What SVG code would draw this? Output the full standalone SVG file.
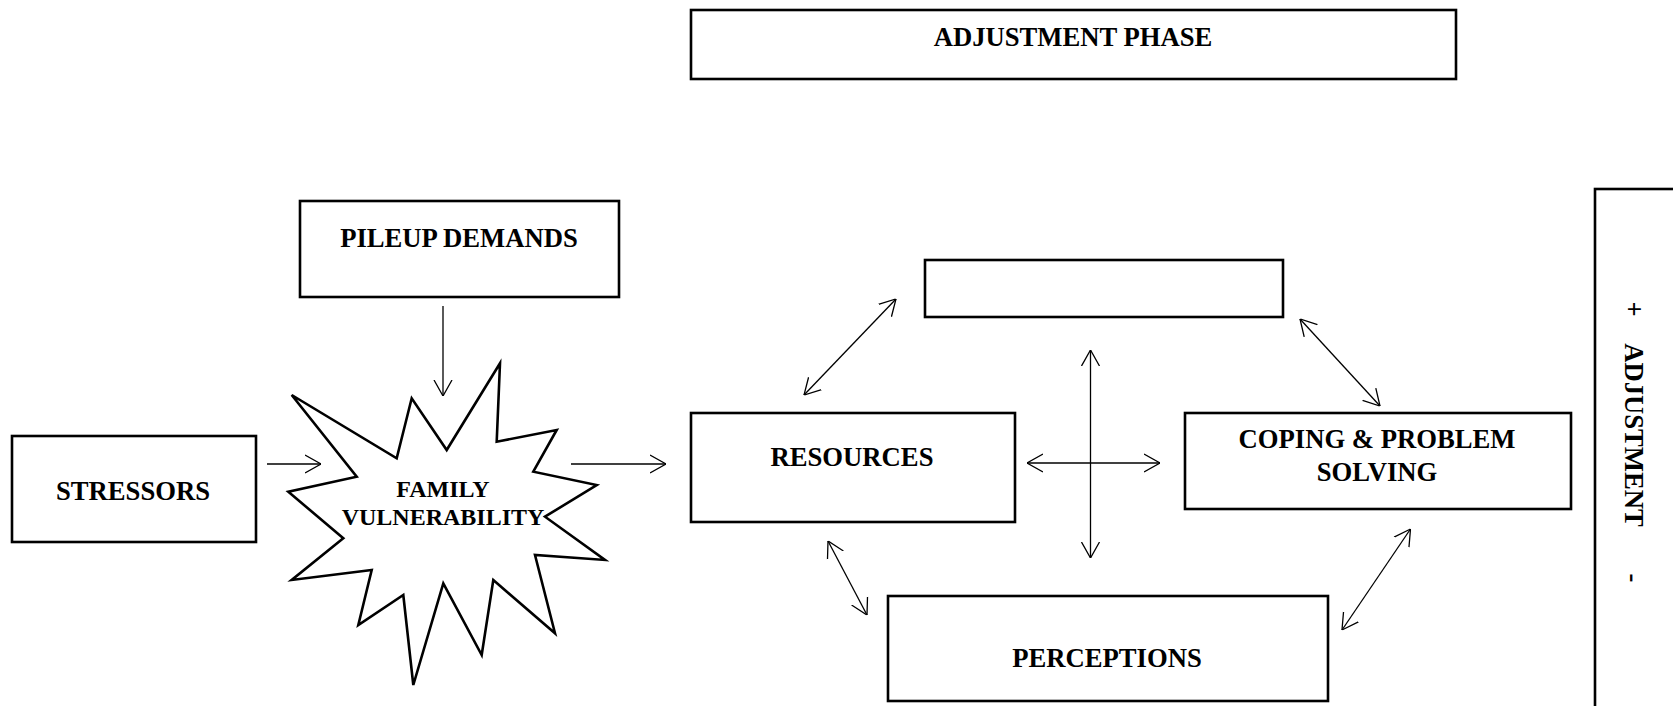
<svg xmlns="http://www.w3.org/2000/svg" width="1673" height="706" viewBox="0 0 1673 706">
<style>
.box{fill:#fff;stroke:#000;stroke-width:2.6}
.t{font-family:"Liberation Serif","Times New Roman",serif;font-weight:bold;font-size:26.67px;fill:#000;text-anchor:middle}
.c{fill:none;stroke:#000;stroke-width:1.3}
</style>
<defs>
<marker id="ah" viewBox="0 0 16 20" refX="16" refY="10" markerWidth="16" markerHeight="20" markerUnits="userSpaceOnUse" orient="auto-start-reverse">
<path d="M0,1 L16,10 L0,19" fill="none" stroke="#000" stroke-width="1.3"/>
</marker>
</defs>
<rect width="1673" height="706" fill="#fff"/>
<g id="adjustment-phase">
<rect class="box" x="691" y="10" width="765" height="69"/>
<text class="t" x="1073" y="46">ADJUSTMENT PHASE</text>
</g>
<g id="pileup-demands">
<rect class="box" x="300" y="201" width="319" height="96"/>
<text class="t" x="459" y="247">PILEUP DEMANDS</text>
</g>
<g id="stressors">
<rect class="box" x="12" y="436" width="244" height="106"/>
<text class="t" x="133" y="500">STRESSORS</text>
</g>
<g id="family-vulnerability">
<polygon class="box" points="291.7,395 396.7,458.3 411.7,398.3 446.7,450 500,363.3 496.7,441.7 556.7,430 533.3,471.7 596.7,485 545,516.7 605,560 535,555 555,633.3 493.3,580 481.7,655 443.3,583.3 413.3,685 403.3,595 358.3,625 371.7,570 291.7,580 343.3,538.3 288.3,491.7 356.7,476.7"/>
<text class="t" style="font-size:24px" x="443" y="497">FAMILY</text>
<text class="t" style="font-size:24px" x="443" y="525">VULNERABILITY</text>
</g>
<g id="empty-box">
<rect class="box" x="925" y="260" width="358" height="57"/>
</g>
<g id="resources">
<rect class="box" x="691" y="413" width="324" height="109"/>
<text class="t" x="852" y="466">RESOURCES</text>
</g>
<g id="coping">
<rect class="box" x="1185" y="413" width="386" height="96"/>
<text class="t" x="1377" y="448">COPING &amp; PROBLEM</text>
<text class="t" x="1377" y="481">SOLVING</text>
</g>
<g id="perceptions">
<rect class="box" x="888" y="596" width="440" height="105"/>
<text class="t" x="1107" y="667">PERCEPTIONS</text>
</g>
<g id="adjustment">
<rect class="box" x="1595" y="189" width="120" height="560"/>
<text class="t" transform="translate(1625,309) rotate(90)">+</text>
<text class="t" transform="translate(1625,435) rotate(90)">ADJUSTMENT</text>
<text class="t" transform="translate(1625,578) rotate(90)">-</text>
</g>
<g id="connectors">
<line class="c" x1="443" y1="306" x2="443" y2="396" marker-end="url(#ah)"/>
<line class="c" x1="267" y1="464" x2="321" y2="464" marker-end="url(#ah)"/>
<line class="c" x1="571" y1="464" x2="666" y2="464" marker-end="url(#ah)"/>
<line class="c" x1="804" y1="395" x2="896" y2="299" marker-start="url(#ah)" marker-end="url(#ah)"/>
<line class="c" x1="1300" y1="319" x2="1380" y2="406" marker-start="url(#ah)" marker-end="url(#ah)"/>
<line class="c" x1="1090.5" y1="350" x2="1090.5" y2="558" marker-start="url(#ah)" marker-end="url(#ah)"/>
<line class="c" x1="1027" y1="463" x2="1160" y2="463" marker-start="url(#ah)" marker-end="url(#ah)"/>
<line class="c" x1="828" y1="541" x2="867" y2="615" marker-start="url(#ah)" marker-end="url(#ah)"/>
<line class="c" x1="1410.5" y1="529" x2="1342" y2="630" marker-start="url(#ah)" marker-end="url(#ah)"/>
</g>
</svg>
